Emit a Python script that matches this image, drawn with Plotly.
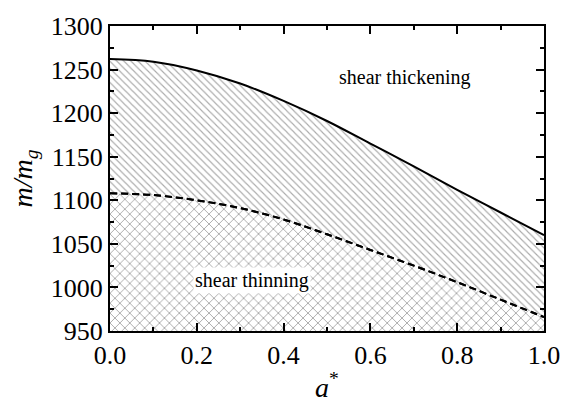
import plotly.graph_objects as go

a_vals = [0.0, 0.1, 0.2, 0.3, 0.4, 0.5, 0.6, 0.7, 0.8, 0.9, 1.0]
upper = [1262, 1259, 1249, 1234, 1214, 1191, 1165, 1139, 1112, 1086, 1060]
lower = [1108, 1106, 1100, 1091, 1078, 1061, 1043, 1025, 1006, 986, 966]

font_fam = "Liberation Serif"

fig = go.Figure()
fig.add_trace(go.Scatter(
    x=a_vals, y=lower, mode="lines", line=dict(color="black", width=2, dash="7px,4px", shape="spline"),
    fill="tozeroy", fillcolor="white",
    fillpattern=dict(shape="x", size=7, solidity=0.25, fgcolor="#555555", bgcolor="white"),
    showlegend=False, hoverinfo="skip"))
fig.add_trace(go.Scatter(
    x=a_vals, y=upper, mode="lines", line=dict(color="black", width=2, shape="spline"),
    fill="tonexty", fillcolor="white",
    fillpattern=dict(shape="\\", size=5, solidity=0.22, fgcolor="#555555", bgcolor="white"),
    showlegend=False, hoverinfo="skip"))
fig.add_trace(go.Scatter(
    x=a_vals, y=lower, mode="lines", line=dict(color="black", width=2, dash="7px,4px", shape="spline"),
    showlegend=False, hoverinfo="skip"))

fig.add_annotation(x=0.68, y=1241, text="shear thickening", showarrow=False,
                   font=dict(family=font_fam, size=20, color="black"), bgcolor="white")
fig.add_annotation(x=0.327, y=1008, text="shear thinning", showarrow=False,
                   font=dict(family=font_fam, size=20, color="black"), bgcolor="white")

axis_common = dict(
    showgrid=False, zeroline=False, showline=True, linecolor="black", linewidth=2,
    mirror="allticks", ticks="inside", ticklen=8, tickwidth=1.5, tickcolor="black",
    tickfont=dict(family=font_fam, size=26, color="black"),
)
fig.update_xaxes(range=[0, 1], dtick=0.2, tickformat=".1f",
                 minor=dict(dtick=0.1, ticks="inside", ticklen=4, tickcolor="black", tickwidth=1.5),
                 title=dict(text="<i>a</i><sup>*</sup>", font=dict(family=font_fam, size=28, color="black"), standoff=8),
                 **axis_common)
fig.update_yaxes(range=[950, 1300], dtick=50,
                 minor=dict(dtick=25, ticks="inside", ticklen=4, tickcolor="black", tickwidth=1.5),
                 title=dict(text="<i>m/m<sub>g</sub></i>", font=dict(family=font_fam, size=28, color="black"), standoff=10),
                 **axis_common)

fig.update_layout(width=572, height=410, margin=dict(l=110, r=27, t=19, b=70),
                  plot_bgcolor="white", paper_bgcolor="white",
                  font=dict(family=font_fam))

fig.write_html("out.html")
